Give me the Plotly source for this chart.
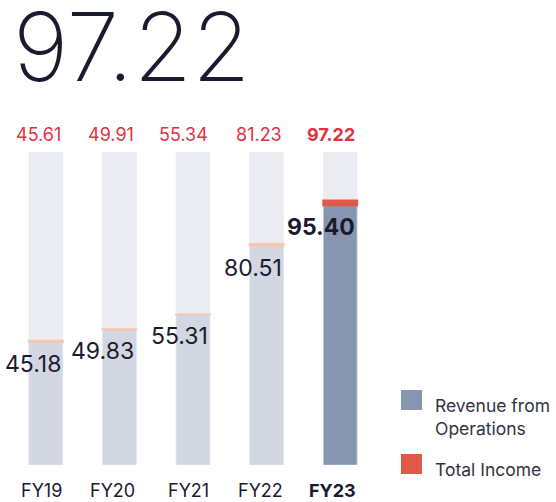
import plotly.graph_objects as go

# ---------------------------------------------------------------------------
# Data
# ---------------------------------------------------------------------------
years = ["FY19", "FY20", "FY21", "FY22", "FY23"]
revenue = [45.18, 49.83, 55.31, 80.51, 95.40]
total_income = [45.61, 49.91, 55.34, 81.23, 97.22]
headline = "97.22"
axis_max = 115

# colours (latest year highlighted)
REV_COLORS = ["#d2d7e2"] * 4 + ["#8596ae"]
INC_COLORS = ["#f7c6b1"] * 4 + ["#e05a47"]
BG_BAR = "#ebecf2"
RED = "#e2313f"
INK = "#1b1b30"
FONT = "Inter, Lato, sans-serif"

# geometry
W, H = 556, 502
L, R, T, B = 9, 179, 152, 37
PW, PH = W - L - R, H - T - B
HALF_BAR = 17  # px, labels are right-aligned to the bar's right edge


def px_x(px):
    return (px - L) / PW


def px_y(py):
    return (H - B - py) / PH


fig = go.Figure()

# background column
fig.add_trace(go.Bar(
    x=years, y=[axis_max] * len(years), marker_color=BG_BAR,
    width=0.46, showlegend=False, hoverinfo="skip",
))
# revenue from operations
fig.add_trace(go.Bar(
    x=years, y=revenue, marker_color=REV_COLORS, width=0.46,
    name="Revenue from Operations", showlegend=False,
))
# other income on top, up to total income
fig.add_trace(go.Bar(
    x=years, y=[t - r for t, r in zip(total_income, revenue)], base=revenue,
    marker=dict(color=INC_COLORS, line=dict(color=INC_COLORS, width=2)),
    width=0.46, name="Total Income", showlegend=False,
))

last = len(years) - 1
for i, (yr, rev, tot) in enumerate(zip(years, revenue, total_income)):
    bold = i == last
    # total income above the column
    fig.add_annotation(
        x=yr, y=axis_max, text=f"<b>{tot:.2f}</b>" if bold else f"{tot:.2f}",
        showarrow=False, xanchor="right", xshift=HALF_BAR,
        yanchor="bottom", yshift=5,
        font=dict(family=FONT, size=18, color=RED),
    )
    # revenue just under its bar top
    fig.add_annotation(
        x=yr, y=rev, text=f"<b>{rev:.2f}</b>" if bold else f"{rev:.2f}",
        showarrow=False, xanchor="right", xshift=HALF_BAR,
        yanchor="middle", yshift=-22,
        font=dict(family=FONT, size=23, color=INK),
    )
    # category label
    fig.add_annotation(
        x=yr, y=0, text=f"<b>{yr}</b>" if bold else yr,
        showarrow=False, xanchor="right", xshift=HALF_BAR + 1,
        yanchor="middle", yshift=-25,
        font=dict(family=FONT, size=18, color=INK),
    )

# big headline number
fig.add_annotation(
    xref="paper", yref="paper", x=px_x(11), y=px_y(46), text=headline,
    showarrow=False, xanchor="left", yanchor="middle",
    font=dict(family=FONT, size=95, color=INK, weight=200),
)

# legend drawn by hand (large square swatches)
legend_items = [("Revenue from<br>Operations", "#8596ae", 390, 417),
                ("Total Income", "#e05a47", 454, 469)]
for label, col, top, text_y in legend_items:
    fig.add_shape(type="rect", xref="paper", yref="paper",
                  x0=px_x(401), x1=px_x(422), y0=px_y(top + 20), y1=px_y(top),
                  fillcolor=col, line_width=0)
    fig.add_annotation(
        xref="paper", yref="paper", x=px_x(433), y=px_y(text_y), text=label,
        showarrow=False, xanchor="left", yanchor="middle", align="left",
        font=dict(family=FONT, size=17.5, color="#333340"),
    )

fig.update_layout(
    width=W, height=H,
    margin=dict(l=L, r=R, t=T, b=B, autoexpand=False),
    barmode="overlay",
    paper_bgcolor="white", plot_bgcolor="white",
    showlegend=False,
    font=dict(family=FONT, color=INK),
)
fig.update_xaxes(
    range=[-0.5, len(years) - 0.5], showticklabels=False,
    showgrid=False, showline=False, zeroline=False, ticks="", automargin=False,
)
fig.update_yaxes(range=[0, axis_max], visible=False, showgrid=False,
                 automargin=False)

# drop the browser's default body margin so the figure sits at (0, 0)
fig.write_html("out.html", config={"displayModeBar": False},
               post_script="document.body.style.margin='0';")
